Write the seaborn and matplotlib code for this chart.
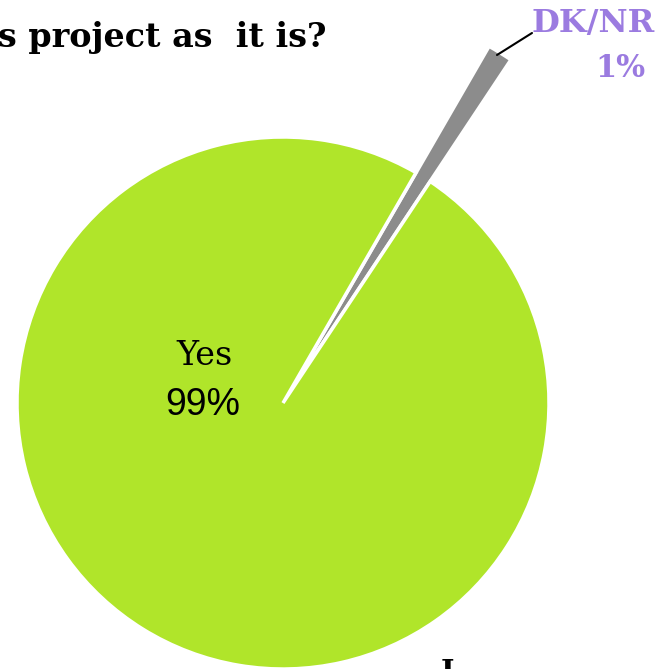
import matplotlib.pyplot as plt
import seaborn as sns

sns.set_theme(style="white")

labels = ["DK/NR", "Yes"]
shares = [1, 99]
colors = ["#8C8C8C", "#B0E52A"]

fig = plt.figure(figsize=(6.57, 6.69), dpi=100)
ax = fig.add_axes([0, 0, 1, 1])

wedges, _ = ax.pie(shares, colors=colors, startangle=56.4, center=(283, 266),
                   radius=266, explode=[4, 0],
                   wedgeprops=dict(edgecolor="white", linewidth=2.5))
# the DK/NR slice is drawn longer than the rest of the pie
wedges[0].set_radius(408)

ax.set_xlim(0, 657)
ax.set_ylim(0, 669)
ax.set_aspect("equal")
ax.axis("off")

# labels
ax.text(204, 304, labels[1], ha="center", va="baseline", fontsize=24,
        family="DejaVu Serif", color="black")
ax.text(203, 254, f"{shares[1]}%", ha="center", va="baseline", fontsize=27,
        family="Liberation Sans", color="black")

purple = "#9B7BE0"
ax.text(593, 637, labels[0], ha="center", va="baseline", fontsize=23,
        family="DejaVu Serif", fontweight="bold", color=purple)
ax.text(620, 592, f"{shares[0]}%", ha="center", va="baseline", fontsize=22,
        family="DejaVu Serif", fontweight="bold", color=purple)
ax.plot([497, 532], [614, 636], color="black", lw=1.5)

ax.text(-2, 622, "s project as  it is?", ha="left", va="baseline", fontsize=24,
        family="DejaVu Serif", fontweight="bold", color="black")
ax.text(447, -12, "I", ha="center", va="baseline", fontsize=21,
        family="DejaVu Serif", fontweight="bold", color="black")

fig.savefig("out.png", dpi=100)
